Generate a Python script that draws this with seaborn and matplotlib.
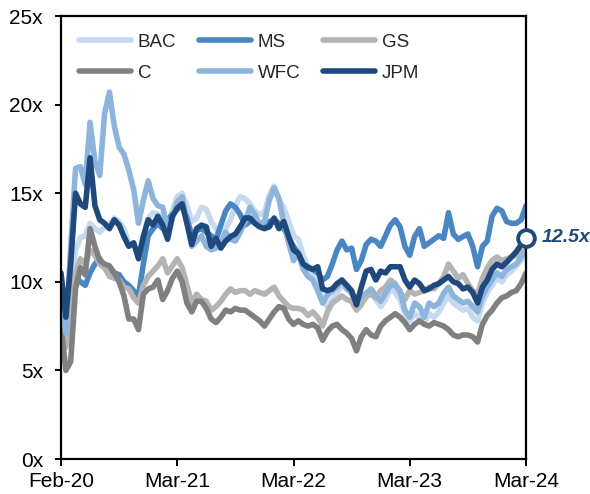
import numpy as np
import pandas as pd
import matplotlib
matplotlib.use("Agg")
import matplotlib.pyplot as plt
import seaborn as sns

# Forward P/E multiples, sampled roughly every two weeks from Feb-20 to Mar-24
BAC = [9.5, 7.6, 10.0, 11.8, 12.5, 12.6, 13.3, 13.0, 12.8, 13.1, 13.2, 13.6, 13.4, 13.0, 12.2, 12.1,
       11.5, 12.6, 13.6, 13.9, 13.8, 13.7, 13.2, 14.0, 14.8, 15.0, 14.3, 13.4, 13.6, 14.2, 14.1, 13.4,
       13.0, 12.6, 13.0, 13.5, 14.3, 14.8, 14.7, 14.4, 14.0, 13.8, 13.9, 14.9, 15.4, 14.6, 14.2, 13.4,
       12.6, 12.4, 11.5, 10.8, 10.3, 9.8, 9.0, 8.6, 9.0, 9.4, 9.8, 9.6, 9.4, 8.7, 9.0, 9.1,
       9.4, 9.0, 8.6, 9.0, 9.6, 9.4, 9.0, 8.2, 7.8, 8.2, 8.0, 7.7, 8.2, 8.0, 8.3, 8.8,
       9.2, 8.8, 8.6, 8.4, 8.5, 8.0, 7.8, 8.8, 9.4, 9.8, 10.2, 10.0, 10.4, 10.6, 10.9, 11.2, 11.6]
MS = [10.0, 8.8, 9.5, 10.3, 10.0, 9.8, 10.5, 11.0, 11.3, 10.8, 10.7, 10.5, 10.4, 10.0, 9.8, 9.5,
      9.2, 11.0, 12.6, 13.0, 13.3, 13.0, 13.5, 13.8, 14.1, 14.3, 13.6, 12.6, 12.9, 13.0, 12.8, 12.6,
      12.4, 13.2, 14.0, 14.4, 14.2, 13.8, 13.2, 13.4, 13.6, 13.3, 13.2, 13.4, 13.5, 13.3, 13.0, 12.5,
      12.0, 11.6, 11.0, 10.85, 10.7, 10.5, 10.1, 10.3, 11.0, 11.8, 12.3, 11.8, 11.9, 10.7, 11.2, 12.1,
      12.4, 12.3, 12.0, 12.6, 13.2, 13.5, 13.1, 12.0, 11.5, 12.55, 13.0, 12.0, 12.2, 12.4, 12.6, 12.45,
      13.9, 12.7, 12.4, 12.55, 12.7, 12.0, 10.85, 12.0, 12.3, 13.7, 14.15, 14.0, 13.4, 13.3, 13.3, 13.5, 14.3]
GS = [8.3, 6.3, 8.5, 10.5, 11.3, 11.0, 11.8, 11.5, 11.0, 10.8, 10.3, 10.2, 10.1, 9.7, 9.6, 9.1,
      8.8, 9.8, 10.3, 10.6, 10.9, 11.3, 10.5, 10.9, 11.3, 10.8, 9.8, 8.8, 9.3, 9.0, 8.9, 8.4,
      8.6, 8.9, 9.3, 9.6, 9.4, 9.5, 9.5, 9.3, 9.5, 9.4, 9.3, 9.5, 9.7, 9.2, 8.9, 8.6,
      8.5, 8.5, 8.4, 8.1, 8.3, 8.0, 7.5, 8.3, 8.8, 9.0, 9.2, 9.0, 8.9, 8.4, 8.7, 9.2,
      9.3, 9.1, 9.5, 9.7, 10.1, 9.9, 9.4, 9.0, 9.5, 9.3, 9.4, 9.5, 9.7, 9.6, 9.9, 10.3,
      11.0, 10.6, 10.2, 10.4, 9.9, 9.5, 9.3, 10.2, 10.8, 11.2, 11.4, 11.2, 11.3, 11.4, 11.5, 11.7, 11.8]
C = [7.6, 5.0, 5.5, 9.6, 10.8, 10.4, 13.0, 12.0, 11.2, 11.0, 10.9, 10.5, 10.0, 9.2, 7.9, 7.9,
     7.3, 9.3, 9.6, 9.7, 10.1, 9.0, 9.5, 10.2, 10.6, 10.0, 8.8, 8.3, 8.9, 8.9, 8.5, 7.9,
     7.7, 8.0, 8.4, 8.3, 8.5, 8.4, 8.4, 8.2, 8.0, 7.8, 7.5, 7.9, 8.3, 8.6, 8.5, 7.9,
     7.6, 7.8, 7.6, 7.5, 7.6, 7.4, 6.7, 7.2, 7.5, 7.6, 7.3, 7.1, 6.8, 6.1, 6.9, 7.3,
     7.0, 6.9, 7.5, 7.8, 8.0, 8.2, 8.0, 7.7, 7.3, 7.6, 7.8, 7.6, 7.5, 7.7, 7.6, 7.5,
     7.3, 7.0, 6.9, 7.0, 7.0, 6.9, 6.6, 7.6, 8.1, 8.4, 8.8, 9.1, 9.2, 9.4, 9.5, 9.9, 10.5]
WFC = [9.0, 7.1, 12.0, 16.4, 16.5, 15.5, 19.0, 16.8, 16.0, 19.5, 20.7, 18.8, 17.6, 17.2, 16.3, 15.2,
       13.3, 14.6, 15.7, 14.7, 14.3, 14.2, 13.0, 13.6, 14.5, 14.8, 13.4, 12.0, 12.3, 12.6, 12.0, 11.8,
       11.9, 12.2, 12.8, 12.4, 12.3, 12.8, 13.4, 14.2, 13.8, 13.2, 13.4, 14.6, 15.3, 14.7, 13.3, 12.2,
       11.2, 11.6, 10.7, 10.3, 10.1, 9.5, 8.8, 9.25, 9.5, 9.7, 10.1, 9.6, 9.35, 8.8, 9.2, 9.35,
       9.6, 9.2, 8.9, 9.35, 9.8, 9.8, 9.5, 8.4, 8.0, 8.8, 8.6, 8.0, 8.8, 8.6, 8.8, 9.35,
       9.7, 9.2, 9.0, 8.8, 8.9, 8.6, 8.3, 9.2, 9.7, 10.1, 10.5, 10.3, 10.7, 10.85, 11.0, 11.4, 11.6]
JPM = [10.5, 8.0, 11.0, 15.0, 14.4, 14.2, 17.0, 14.3, 13.5, 13.3, 13.0, 13.5, 13.2, 12.55, 12.0, 12.2,
       11.3, 12.55, 13.5, 13.2, 13.7, 13.2, 12.4, 13.7, 14.15, 14.4, 13.3, 12.1, 13.0, 13.2, 13.1, 12.0,
       12.45, 11.9, 12.3, 12.55, 12.7, 13.1, 13.6, 13.6, 13.3, 13.1, 13.0, 13.1, 13.6, 13.0, 13.4, 12.55,
       11.8, 11.6, 11.0, 10.8, 10.7, 10.85, 9.6, 9.5, 9.6, 9.9, 10.1, 9.8, 9.5, 8.7, 9.7, 10.6,
       10.7, 10.1, 10.6, 10.5, 10.85, 10.85, 10.85, 10.1, 9.7, 10.1, 9.9, 9.5, 9.6, 9.8, 9.9, 10.1,
       10.3, 10.0, 9.9, 9.6, 9.7, 9.4, 8.8, 9.7, 10.1, 10.7, 11.0, 10.85, 11.1, 11.4, 11.7, 12.1, 12.5]

banks = ["BAC", "MS", "GS", "C", "WFC", "JPM"]
series = {"BAC": BAC, "MS": MS, "GS": GS, "C": C, "WFC": WFC, "JPM": JPM}
colors = {"BAC": "#C6D9F0", "MS": "#4A86C1", "GS": "#B4B4B4",
          "C": "#808080", "WFC": "#8DB4DD", "JPM": "#1F497D"}

tick_labels = ["Feb-20", "Mar-21", "Mar-22", "Mar-23", "Mar-24"]
y_ticks = [0, 5, 10, 15, 20, 25]
jpm_last_label = "12.5x"

n = len(JPM)
df = pd.concat(
    [pd.DataFrame({"t": np.arange(n), "pe": series[b], "bank": b}) for b in banks],
    ignore_index=True,
)

sns.set_style("ticks")
plt.rcParams["font.family"] = ["Liberation Sans", "DejaVu Sans"]

fig = plt.figure(figsize=(5.9, 4.94), dpi=100)
ax = fig.add_axes([61 / 590, 1 - 459 / 494, 465 / 590, 443 / 494])

LW = 4.0
sns.lineplot(data=df, x="t", y="pe", hue="bank", hue_order=banks,
             palette=colors, linewidth=LW, legend=False, ax=ax)
for ln in ax.lines:
    ln.set_solid_capstyle("round")
    ln.set_solid_joinstyle("round")

# end-point marker and value for JPM
ax.plot([n - 1], [JPM[-1]], marker="o", markersize=12, markerfacecolor="white",
        markeredgecolor=colors["JPM"], markeredgewidth=2.8, linestyle="none",
        clip_on=False, zorder=10)
ax.annotate(jpm_last_label, xy=(n - 1, JPM[-1]), xytext=(11, 0),
            textcoords="offset points", ha="left", va="center",
            fontsize=14, fontweight="bold", fontstyle="italic",
            color=colors["JPM"], annotation_clip=False)

ax.set_xlim(0, n - 1)
ax.set_ylim(0, 25)
ax.set_xticks(np.linspace(0, n - 1, len(tick_labels)))
ax.set_xticklabels(tick_labels)
ax.set_yticks(y_ticks)
ax.set_yticklabels([f"{v}x" for v in y_ticks])
ax.set_xlabel("")
ax.set_ylabel("")

for side in ["left", "right", "top", "bottom"]:
    ax.spines[side].set_visible(True)
    ax.spines[side].set_color("black")
    ax.spines[side].set_linewidth(1.6)
ax.tick_params(axis="y", direction="out", length=4, width=1.4, pad=9,
               labelsize=15, colors="black", right=False)
ax.tick_params(axis="x", direction="out", length=5, width=1.4, pad=4,
               labelsize=15, colors="black", top=False)

line_of = dict(zip(banks, ax.lines[:len(banks)]))
order = ["BAC", "C", "MS", "WFC", "GS", "JPM"]
leg = ax.legend([line_of[b] for b in order], order, ncol=3, frameon=False,
                loc="upper left", bbox_to_anchor=(0.038, 0.96), borderpad=0,
                borderaxespad=0, fontsize=13.5, handlelength=2.8,
                handletextpad=0.35, columnspacing=1.2, labelspacing=0.75)
for h in leg.get_lines():
    h.set_linewidth(LW)
    h.set_solid_capstyle("round")

fig.savefig("out.png", dpi=100)
